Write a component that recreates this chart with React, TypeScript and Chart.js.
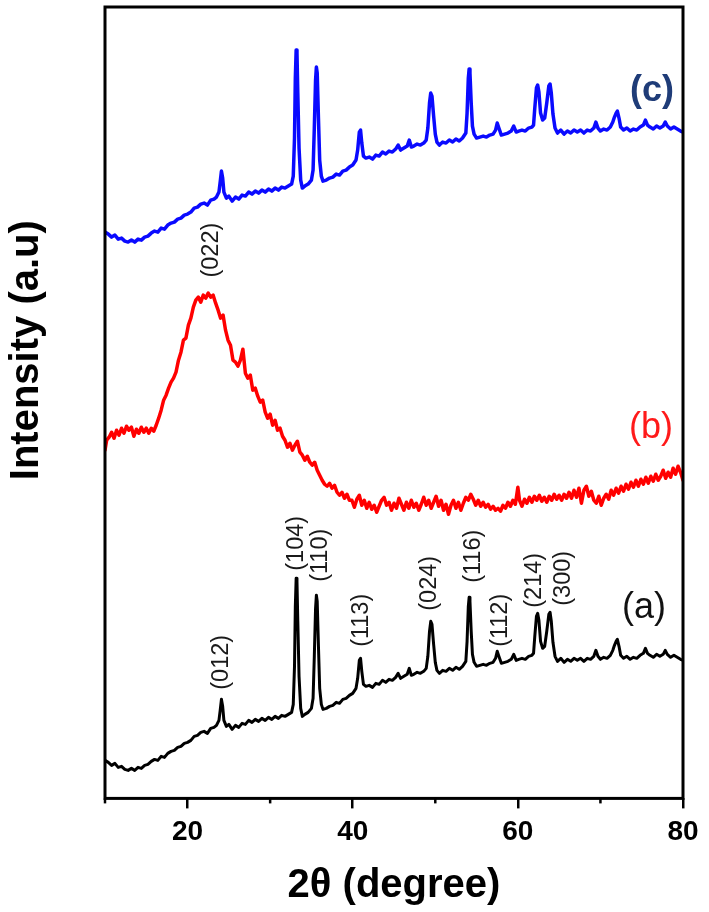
import React, { useEffect, useRef } from 'react';
import { Chart, registerables } from 'chart.js';

Chart.register(...registerables);

// 2θ positions shared by traces (a) and (c)
const twoThetaAC = [
  10.0, 10.4, 10.8, 11.2, 11.6, 12.0, 12.4, 12.8, 13.2, 13.6, 14.0, 14.4, 14.8, 15.2, 15.6, 16.0, 16.4, 16.8, 17.2, 17.6, 18.0, 18.4, 18.8, 19.2, 19.6, 20.0, 20.4, 20.8, 21.2, 21.6, 22.0, 22.4, 22.8, 23.2, 23.5, 23.8, 23.95, 24.1, 24.25, 24.4, 24.7, 25.0,
  25.4, 25.8, 26.2, 26.6, 27.0, 27.4, 27.8, 28.2, 28.6, 29.0, 29.4, 29.8, 30.2, 30.6, 31.0, 31.4, 31.8, 32.2, 32.6,
  32.8, 32.95, 33.05, 33.15, 33.25, 33.35, 33.5, 33.7, 33.9, 34.2, 34.6, 35.0, 35.2, 35.35, 35.5, 35.6, 35.7, 35.85, 36.0, 36.2, 36.4,
  36.8, 37.2, 37.6, 38.0, 38.4, 38.8, 39.2, 39.6, 40.0, 40.4, 40.6, 40.8, 40.95, 41.1, 41.3, 41.6, 42.0, 42.4, 42.8, 43.2, 43.6, 44.0, 44.4, 44.8, 45.2, 45.5, 45.8, 46.2, 46.6, 46.85, 47.1, 47.4, 47.8, 48.2, 48.6, 48.9,
  49.1, 49.3, 49.45, 49.6, 49.8, 50.0, 50.2, 50.5, 50.9, 51.3, 51.7, 52.1, 52.5, 52.9, 53.3, 53.7, 53.85, 54.0, 54.1, 54.2, 54.35, 54.5, 54.7, 55.0, 55.4, 55.8, 56.2, 56.6, 57.0, 57.3, 57.5, 57.7, 58.0, 58.4, 58.8, 59.2, 59.5, 59.8, 60.1, 60.5, 60.9, 61.3, 61.7, 61.9,
  62.05, 62.25, 62.4, 62.55, 62.75, 63.0, 63.25, 63.5, 63.75, 63.9, 64.05, 64.25, 64.5, 64.8, 65.2, 65.6, 66.0, 66.4, 66.8, 67.2, 67.6, 68.0, 68.4, 68.8, 69.2, 69.45, 69.7, 70.0, 70.4, 70.8, 71.2, 71.5, 71.7, 71.9, 72.05, 72.25, 72.45, 72.8, 73.2, 73.6, 74.0, 74.4, 74.8, 75.2, 75.45, 75.7, 76.0, 76.4, 76.8, 77.2, 77.6, 77.85, 78.1, 78.5, 78.9, 79.3, 79.7, 80.0,
];

// trace (c), blue, stacked intensity (a.u.)
const intensityC = [
  566, 564, 561, 563, 559, 560, 557, 556, 558, 556, 559, 558, 561, 562, 565, 567, 566, 570, 569, 573, 575, 576, 579, 580, 583, 584, 586, 590, 591, 594, 595, 593, 598, 599, 601, 606, 616, 627, 620, 606, 600, 602,
  597, 601, 599, 603, 602, 606, 604, 607, 605, 608, 606, 609, 607, 610, 608, 611, 610, 612, 614,
  622, 660, 720, 748, 745, 705, 650, 618, 610, 612, 614, 618, 628, 670, 718, 731, 725, 680, 638, 622, 617,
  618, 620, 621, 624, 623, 627, 628, 631, 633, 638, 648, 666, 668, 655, 642, 640, 641, 639, 643, 642, 646, 644, 647, 646, 649, 653, 648, 650, 652, 658, 651, 652, 654, 653, 655, 658,
  670, 695, 705, 702, 682, 664, 656, 653, 656, 655, 658, 656, 659, 657, 660, 665, 685, 720, 729, 725, 695, 672, 664, 660, 661, 662, 661, 663, 664, 668, 675, 670, 663, 664, 665, 667, 672, 666, 667, 668, 667, 670, 671, 673,
  690, 710, 713, 706, 685, 678, 680, 695, 712, 714, 705, 684, 670, 665, 668, 664, 667, 665, 668, 666, 668, 665, 668, 667, 670, 676, 670, 667, 669, 668, 671, 676, 681, 685, 687, 680, 671, 668, 670, 667, 669, 668, 671, 673, 678, 673, 671, 669, 672, 670, 672, 676, 672, 669, 671, 669, 667, 666,
];

// trace (a), black, stacked intensity (a.u.)
const intensityA = [
  38, 36, 33, 35, 31, 32, 29, 28, 30, 28, 31, 30, 33, 34, 37, 39, 38, 42, 41, 45, 47, 48, 51, 52, 55, 56, 58, 62, 63, 66, 67, 65, 70, 71, 73, 78, 88, 99, 92, 78, 72, 74,
  69, 73, 71, 75, 74, 78, 76, 79, 77, 80, 78, 81, 79, 82, 80, 83, 82, 84, 86,
  94, 132, 192, 220, 217, 177, 122, 90, 82, 84, 86, 90, 100, 142, 190, 203, 197, 152, 110, 94, 89,
  90, 92, 93, 96, 95, 99, 100, 103, 105, 110, 120, 138, 140, 127, 114, 112, 113, 111, 115, 114, 118, 116, 119, 118, 121, 125, 120, 122, 124, 130, 123, 124, 126, 125, 127, 130,
  142, 167, 177, 174, 154, 136, 128, 125, 128, 127, 130, 128, 131, 129, 132, 137, 157, 192, 201, 197, 167, 144, 136, 132, 133, 134, 133, 135, 136, 140, 147, 142, 135, 136, 137, 139, 144, 138, 139, 140, 139, 142, 143, 145,
  162, 182, 185, 178, 157, 150, 152, 167, 184, 186, 177, 156, 142, 137, 140, 136, 139, 137, 140, 138, 140, 137, 140, 139, 142, 148, 142, 139, 141, 140, 143, 148, 153, 157, 159, 152, 143, 140, 142, 139, 141, 140, 143, 145, 150, 145, 143, 141, 144, 142, 144, 148, 144, 141, 143, 141, 139, 138,
];

// trace (b), red
const twoThetaB = [
  10.0, 10.2, 10.5, 10.8, 11.1, 11.4, 11.7, 12.0, 12.3, 12.6, 12.9, 13.2, 13.5, 13.8, 14.1, 14.4, 14.7, 15.0, 15.3, 15.6, 15.9, 16.2, 16.5, 16.8, 17.1, 17.4, 17.7, 18.0, 18.3, 18.6, 18.9, 19.2, 19.5, 19.8, 20.1, 20.4, 20.7, 21.0, 21.3, 21.6,
  21.9, 22.2, 22.5, 22.8, 23.1, 23.4, 23.7, 24.0, 24.3, 24.6, 24.9, 25.2, 25.5, 25.8, 26.1, 26.4, 26.7, 27.0, 27.3, 27.6, 27.9, 28.2, 28.5, 28.8, 29.1, 29.4, 29.7, 30.0, 30.3, 30.6, 30.9, 31.2, 31.5, 31.8, 32.1, 32.4, 32.7, 33.0, 33.3, 33.6,
  33.9, 34.2, 34.5, 34.8, 35.1, 35.4, 35.7, 36.0, 36.3, 36.6, 36.9, 37.2, 37.5, 37.8, 38.1, 38.4, 38.7, 39.0, 39.3, 39.6, 39.9, 40.2, 40.5, 40.8, 41.1, 41.4, 41.7, 42.0, 42.3, 42.6, 42.9, 43.2, 43.5, 43.8, 44.1, 44.4, 44.7, 45.0, 45.3, 45.6,
  45.9, 46.2, 46.5, 46.8, 47.1, 47.4, 47.7, 48.0, 48.3, 48.6, 48.9, 49.2, 49.5, 49.8, 50.1, 50.4, 50.7, 51.0, 51.3, 51.6, 51.9, 52.2, 52.5, 52.8, 53.1, 53.4, 53.7, 54.0, 54.3, 54.6, 54.9, 55.2, 55.5, 55.8, 56.1, 56.4, 56.7, 57.0, 57.3, 57.6,
  57.9, 58.2, 58.5, 58.8, 59.1, 59.4, 59.7, 60.0, 60.2, 60.5, 60.8, 61.1, 61.4, 61.7, 62.0, 62.3, 62.6, 62.9, 63.2, 63.5, 63.8, 64.1, 64.4, 64.7, 65.0, 65.3, 65.6, 65.9, 66.2, 66.5, 66.8, 67.1, 67.4, 67.7, 68.0, 68.3, 68.6, 68.9, 69.2, 69.5,
  69.8, 70.1, 70.4, 70.7, 71.0, 71.3, 71.6, 71.9, 72.2, 72.5, 72.8, 73.1, 73.4, 73.7, 74.0, 74.3, 74.6, 74.9, 75.2, 75.5, 75.8, 76.1, 76.4, 76.7, 77.0, 77.3, 77.6, 77.9, 78.2, 78.5, 78.8, 79.1, 79.4, 79.7, 80.0,
];

const intensityB = [
  348, 358, 361, 366, 360, 368, 363, 370, 365, 372, 368, 371, 362, 369, 365, 371, 366, 370, 365, 370, 367, 373, 380, 388, 398, 403, 410, 416, 420, 426, 438, 446, 458, 460, 473, 480, 491, 498, 501, 496,
  503, 500, 505, 501, 503, 495, 488, 480, 483, 468, 458, 453, 438, 436, 432, 438, 449, 425, 420, 423, 408, 410, 402, 396, 398, 386, 380, 384, 373, 378, 368, 370, 362, 358, 351, 355, 348, 353, 357, 346,
  343, 338, 342, 336, 333, 336, 328, 323, 318, 314, 312, 315, 310, 313, 306, 303, 306, 300, 304, 298, 298, 291, 299, 303, 293, 298, 290, 296, 289, 293, 286, 292, 298, 301, 293, 296, 288, 295, 290, 300,
  294, 288, 296, 290, 298, 291, 295, 288, 294, 301, 293, 298, 290, 296, 302, 292, 298, 288, 294, 284, 293, 298, 290, 296, 288, 295, 301, 298, 304, 299, 293, 298, 292, 296, 291, 294, 289, 292, 288, 290,
  287, 293, 290, 296, 292, 298, 294, 311, 298, 292, 299, 295, 301, 296, 302, 298, 303, 297, 301, 296, 302, 298, 304, 299, 303, 298, 304, 300, 306, 300, 308, 301, 310, 295, 308, 312, 302, 307, 298, 295,
  302, 293, 300, 304, 299, 308, 303, 310, 305, 312, 307, 314, 309, 316, 311, 318, 312, 319, 314, 321, 315, 322, 317, 324, 318, 322, 328, 320, 326, 321, 330, 324, 332, 326, 318,
];

// x-axis ticks
const xMajorTicks = [20, 40, 60, 80];
const xMinorTicks = [10, 30, 50, 70];

// Miller-index annotations (rotated), anchored in data coordinates
const hklLabels = ['(022)', '(012)', '(104)', '(110)', '(113)', '(024)', '(116)', '(112)', '(214)', '(300)'];
const hklTwoTheta = [22.96, 24.17, 33.25, 36.16, 41.12, 49.36, 54.57, 57.84, 61.96, 65.47];
const hklHeight = [548, 136, 255, 243, 178, 215, 242, 178, 218, 220];

// trace captions
const traceLabels = ['(a)', '(b)', '(c)'];
const traceLabelTwoTheta = [75.28, 76.13, 76.25];
const traceLabelHeight = [190, 370, 707];
const traceLabelColors = ['#111111', '#ff1a1a', '#1f3c78'];
const traceLabelWeights = ['normal', 'normal', 'bold'];

const FONT = '"Liberation Sans", Arial, Helvetica, sans-serif';

const pts = (xs: number[], ys: number[]) => xs.map((x, i) => ({ x, y: ys[i] }));

const decorPlugin = {
  id: 'decor',
  afterDraw(chart: any) {
    const { ctx, chartArea: a, scales } = chart;
    const x = scales.x;
    const y = scales.y;
    ctx.save();
    // frame
    ctx.strokeStyle = '#000';
    ctx.lineWidth = 3;
    ctx.strokeRect(a.left, a.top, a.right - a.left, a.bottom - a.top);
    // minor ticks
    ctx.lineWidth = 2.5;
    for (const v of xMinorTicks) {
      const px = x.getPixelForValue(v);
      ctx.beginPath();
      ctx.moveTo(px, a.bottom);
      ctx.lineTo(px, a.bottom + 5);
      ctx.stroke();
    }
    // hkl labels
    ctx.font = `23.5px ${FONT}`;
    ctx.fillStyle = '#1a1a1a';
    ctx.textAlign = 'center';
    ctx.textBaseline = 'middle';
    hklLabels.forEach((t, i) => {
      const px = x.getPixelForValue(hklTwoTheta[i]);
      const py = y.getPixelForValue(hklHeight[i]);
      ctx.save();
      ctx.translate(px, py);
      ctx.rotate(-Math.PI / 2);
      ctx.fillText(t, 0, 0);
      ctx.restore();
    });
    // trace labels
    traceLabels.forEach((t, i) => {
      ctx.font = `${traceLabelWeights[i]} 36px ${FONT}`;
      ctx.fillStyle = traceLabelColors[i];
      ctx.fillText(t, x.getPixelForValue(traceLabelTwoTheta[i]), y.getPixelForValue(traceLabelHeight[i]));
    });
    // y-axis title
    ctx.save();
    ctx.translate(a.left - 78, y.getPixelForValue(448));
    ctx.rotate(-Math.PI / 2);
    ctx.font = `bold 40px ${FONT}`;
    ctx.fillStyle = '#000';
    ctx.fillText('Intensity (a.u)', 0, 0);
    ctx.restore();
    ctx.restore();
  },
};

export default function App() {
  const ref = useRef<HTMLCanvasElement | null>(null);
  useEffect(() => {
    document.body.style.margin = '0';
    const canvas = ref.current;
    if (!canvas) return;
    const lineStyle = { pointRadius: 0, tension: 0, borderJoinStyle: 'round' as const, borderCapStyle: 'round' as const };
    const chart = new Chart(canvas, {
      type: 'line',
      data: {
        datasets: [
          { label: '(a)', data: pts(twoThetaAC, intensityA), borderColor: '#000000', borderWidth: 3, ...lineStyle },
          { label: '(b)', data: pts(twoThetaB, intensityB), borderColor: '#ff0000', borderWidth: 3.5, ...lineStyle },
          { label: '(c)', data: pts(twoThetaAC, intensityC), borderColor: '#0a0aff', borderWidth: 3.5, ...lineStyle },
        ],
      },
      options: {
        animation: false,
        responsive: true,
        maintainAspectRatio: false,
        layout: { padding: { left: 105, right: 26, top: 7, bottom: 0 } },
        plugins: { legend: { display: false }, tooltip: { enabled: false } },
        scales: {
          x: {
            type: 'linear',
            min: 10,
            max: 80,
            afterBuildTicks: (scale: any) => {
              scale.ticks = xMajorTicks.map((v) => ({ value: v }));
            },
            ticks: {
              padding: 7,
              color: '#000',
              font: { family: FONT, size: 28, weight: 'bold' },
              callback: (v: any) => String(v),
            },
            grid: { display: true, drawOnChartArea: false, drawTicks: true, tickLength: 10, color: '#000', lineWidth: 2.5 },
            border: { display: false },
            title: {
              display: true,
              text: '2θ (degree)',
              color: '#000',
              font: { family: FONT, size: 40, weight: 'bold' },
              padding: { top: 6, bottom: 2 },
            },
          },
          y: { type: 'linear', min: 0, max: 791, display: false },
        },
      },
      plugins: [decorPlugin],
    });
    return () => chart.destroy();
  }, []);
  return (
    <div style={{ width: 709, height: 912, position: 'relative' }}>
      <canvas ref={ref} />
    </div>
  );
}
